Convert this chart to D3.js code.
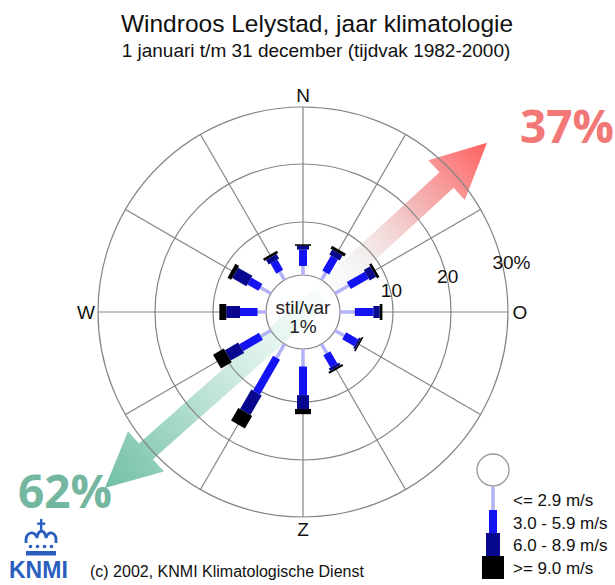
<!DOCTYPE html>
<html>
<head>
<meta charset="utf-8">
<script src="https://cdn.jsdelivr.net/npm/d3@7"></script>
<style>
  body { margin: 0; background: #fff; }
</style>
</head>
<body>
<div id="rose"></div>
<script>
// wind directions (bearing, degrees) and share per speed class (% of time)
const directions = [0, 30, 60, 90, 120, 150, 180, 210, 240, 270, 300, 330];
const speedClasses = ["<= 2.9 m/s", "3.0 - 5.9 m/s", "6.0 - 8.9 m/s", ">= 9.0 m/s"];
const pctLow  = [1.7, 1.6, 3.0, 2.8, 2.0, 2.0, 3.3, 3.0, 2.2, 1.6, 2.3, 1.8];
const pctMid  = [3.1, 3.3, 3.9, 3.5, 2.6, 2.7, 5.4, 7.5, 4.3, 3.3, 2.4, 2.2];
const pctHigh = [0.7, 1.1, 1.4, 1.2, 0.4, 0.5, 2.5, 3.9, 2.9, 2.6, 3.1, 1.0];
const pctMax  = [0.3, 0.6, 0.5, 0.5, 0.3, 0.4, 0.9, 2.5, 2.2, 1.3, 0.8, 0.5];
const calmPct = 1;
const ringTicks = [10, 20, 30];
const compass = [["N", 0], ["O", 90], ["Z", 180], ["W", 270]];
const halves = ["37%", "62%"];

const width = 615, height = 585;
const cx = 303, cy = 312;
const font = "'Liberation Sans', Arial, Helvetica, sans-serif";

const svg = d3.select("#rose").append("svg")
  .attr("width", width)
  .attr("height", height)
  .style("display", "block");

svg.append("rect").attr("width", width).attr("height", height).attr("fill", "#fff");

// radial scale: 0% sits on the calm circle
const r = d3.scaleLinear().domain([0, 10, 20, 30]).range([37, 90, 148, 205]);

const rows = directions.map((d, i) => ({
  dir: d,
  [speedClasses[0]]: pctLow[i],
  [speedClasses[1]]: pctMid[i],
  [speedClasses[2]]: pctHigh[i],
  [speedClasses[3]]: pctMax[i]
}));
const series = d3.stack().keys(speedClasses)(rows);

const color = d3.scaleOrdinal().domain(speedClasses)
  .range(["#b2b2f8", "#1414f2", "#08088f", "#000000"]);
const barWidth = d3.scaleOrdinal().domain(speedClasses).range([3.5, 8, 12, 16]);

// titles
svg.append("text")
  .attr("x", 317).attr("y", 32)
  .attr("text-anchor", "middle")
  .style("font-family", font).style("font-size", "24.5px").attr("fill", "#111")
  .text("Windroos Lelystad, jaar klimatologie");
svg.append("text")
  .attr("x", 316).attr("y", 57)
  .attr("text-anchor", "middle")
  .style("font-family", font).style("font-size", "19px").attr("fill", "#111")
  .text("1 januari t/m 31 december (tijdvak 1982-2000)");

// big arrows (drawn under the grid)
const defs = svg.append("defs");
const arrows = [
  { id: "gRed", bearing: 47.4, start: 0, len: 250, stops: [[0, "#ffffff", 0], [0.3, "#ebe6e6", 0.6], [0.6, "#f0aaaa", 0.9], [1, "#ff4a4a", 1]] },
  { id: "gGreen", bearing: 228.4, start: -25, len: 265, stops: [[0, "#e4f4ee", 0.3], [0.25, "#d6eee5", 0.8], [0.6, "#a6d9c6", 1], [1, "#5db696", 1]] }
];
arrows.forEach(a => {
  const g = defs.append("linearGradient")
    .attr("id", a.id)
    .attr("gradientUnits", "userSpaceOnUse")
    .attr("x1", a.start).attr("y1", 0).attr("x2", a.len).attr("y2", 0);
  a.stops.forEach(s => g.append("stop")
    .attr("offset", s[0]).attr("stop-color", s[1]).attr("stop-opacity", s[2]));
  const sh = 10.5, hh = 27, hl = 55, b = a.len - hl;
  const path = `M${a.start},${-sh} L${b},${-sh} L${b},${-hh} L${a.len},0 L${b},${hh} L${b},${sh} L${a.start},${sh} Z`;
  svg.append("path")
    .attr("d", path)
    .attr("transform", `translate(${cx},${cy}) rotate(${a.bearing - 90})`)
    .attr("fill", `url(#${a.id})`)
    .attr("opacity", 0.88);
});

// grid
const grid = svg.append("g").attr("transform", `translate(${cx},${cy})`);
grid.selectAll("line.spoke")
  .data(directions)
  .join("line")
  .attr("class", "spoke")
  .attr("transform", d => `rotate(${d})`)
  .attr("x1", 0).attr("x2", 0)
  .attr("y1", -r(0)).attr("y2", -r(30))
  .attr("stroke", "#858585").attr("stroke-width", 1.2);
grid.selectAll("circle.ring")
  .data([0, ...ringTicks])
  .join("circle")
  .attr("class", "ring")
  .attr("r", d => r(d))
  .attr("fill", "none")
  .attr("stroke", "#858585").attr("stroke-width", 1.2);

// ring labels
grid.selectAll("text.ringlabel")
  .data(ringTicks)
  .join("text")
  .attr("class", "ringlabel")
  .attr("x", d => (r(d) + 1) * Math.sin(76 * Math.PI / 180))
  .attr("y", d => -(r(d) + 1) * Math.cos(76 * Math.PI / 180))
  .attr("dx", "-0.55em").attr("dy", "0.35em")
  .style("font-family", font).style("font-size", "19px").attr("fill", "#111")
  .text(d => d === 30 ? d + "%" : d);

// compass letters
grid.selectAll("text.compass")
  .data(compass)
  .join("text")
  .attr("class", "compass")
  .attr("x", d => (r(30) + 12) * Math.sin(d[1] * Math.PI / 180))
  .attr("y", d => -(r(30) + 12) * Math.cos(d[1] * Math.PI / 180))
  .attr("text-anchor", "middle").attr("dy", "0.36em")
  .style("font-family", font).style("font-size", "19px").attr("fill", "#111")
  .text(d => d[0]);

// bars
const bars = svg.append("g").attr("transform", `translate(${cx},${cy})`);
series.forEach(s => {
  bars.append("g").selectAll("rect")
    .data(s)
    .join("rect")
    .attr("transform", d => `rotate(${d.data.dir})`)
    .attr("x", -barWidth(s.key) / 2)
    .attr("width", barWidth(s.key))
    .attr("y", d => -r(d[1]))
    .attr("height", d => r(d[1]) - r(d[0]))
    .attr("fill", color(s.key));
});

// calm
grid.append("text")
  .attr("y", 2)
  .attr("text-anchor", "middle")
  .style("font-family", font).style("font-size", "19px").attr("fill", "#222")
  .text("stil/var");
grid.append("text")
  .attr("y", 21)
  .attr("text-anchor", "middle")
  .style("font-family", font).style("font-size", "19px").attr("fill", "#222")
  .text(calmPct + "%");

// percentage labels next to arrows
svg.append("text")
  .attr("x", 567).attr("y", 143)
  .attr("text-anchor", "middle")
  .style("font-family", "'Open Sans', sans-serif").style("font-weight", 700).style("font-size", "46px")
  .attr("fill", "#f27878")
  .text(halves[0]);
svg.append("text")
  .attr("x", 65).attr("y", 508)
  .attr("text-anchor", "middle")
  .style("font-family", "'Open Sans', sans-serif").style("font-weight", 700).style("font-size", "46px")
  .attr("fill", "#74b6a0")
  .text(halves[1]);

// legend
const legend = svg.append("g").attr("transform", "translate(493,470)");
legend.append("circle")
  .attr("r", 16).attr("fill", "#fff").attr("stroke", "#999").attr("stroke-width", 1.3);
const legW = d3.scaleOrdinal().domain(speedClasses).range([3.5, 8, 14, 22]);
legend.selectAll("rect")
  .data(speedClasses)
  .join("rect")
  .attr("x", d => -legW(d) / 2)
  .attr("width", d => legW(d))
  .attr("y", (d, i) => 17 + i * 23)
  .attr("height", 23)
  .attr("fill", d => color(d));
legend.selectAll("text")
  .data(speedClasses)
  .join("text")
  .attr("x", 20)
  .attr("y", (d, i) => 36 + i * 22.5)
  .style("font-family", font).style("font-size", "17px").attr("fill", "#111")
  .text(d => d);

// KNMI logo + credit
const blue = "#2a5fc0";
const logo = svg.append("g").attr("fill", blue).attr("transform", "translate(0,-2)");
logo.append("rect").attr("x", 26).attr("y", 553).attr("width", 30).attr("height", 4.5);
[30, 37, 44, 51].forEach(x => logo.append("circle").attr("cx", x + 0.5).attr("cy", 548.5).attr("r", 1.8));
logo.append("path")
  .attr("d", "M26,545 C25,533 35,532 37,540 C38,531 45,531 46,540 C48,532 57,533 56,545")
  .attr("fill", "none").attr("stroke", blue).attr("stroke-width", 2.8);
logo.append("rect").attr("x", 40).attr("y", 521).attr("width", 2.4).attr("height", 12);
logo.append("rect").attr("x", 37.2).attr("y", 524.5).attr("width", 8).attr("height", 2.4);
logo.append("text")
  .attr("x", 9).attr("y", 580)
  .style("font-family", font).style("font-weight", 700).style("font-size", "23px")
  .text("KNMI");
svg.append("text")
  .attr("x", 90).attr("y", 577)
  .style("font-family", font).style("font-size", "16px").attr("fill", "#111")
  .text("(c) 2002, KNMI Klimatologische Dienst");
</script>
</body>
</html>
